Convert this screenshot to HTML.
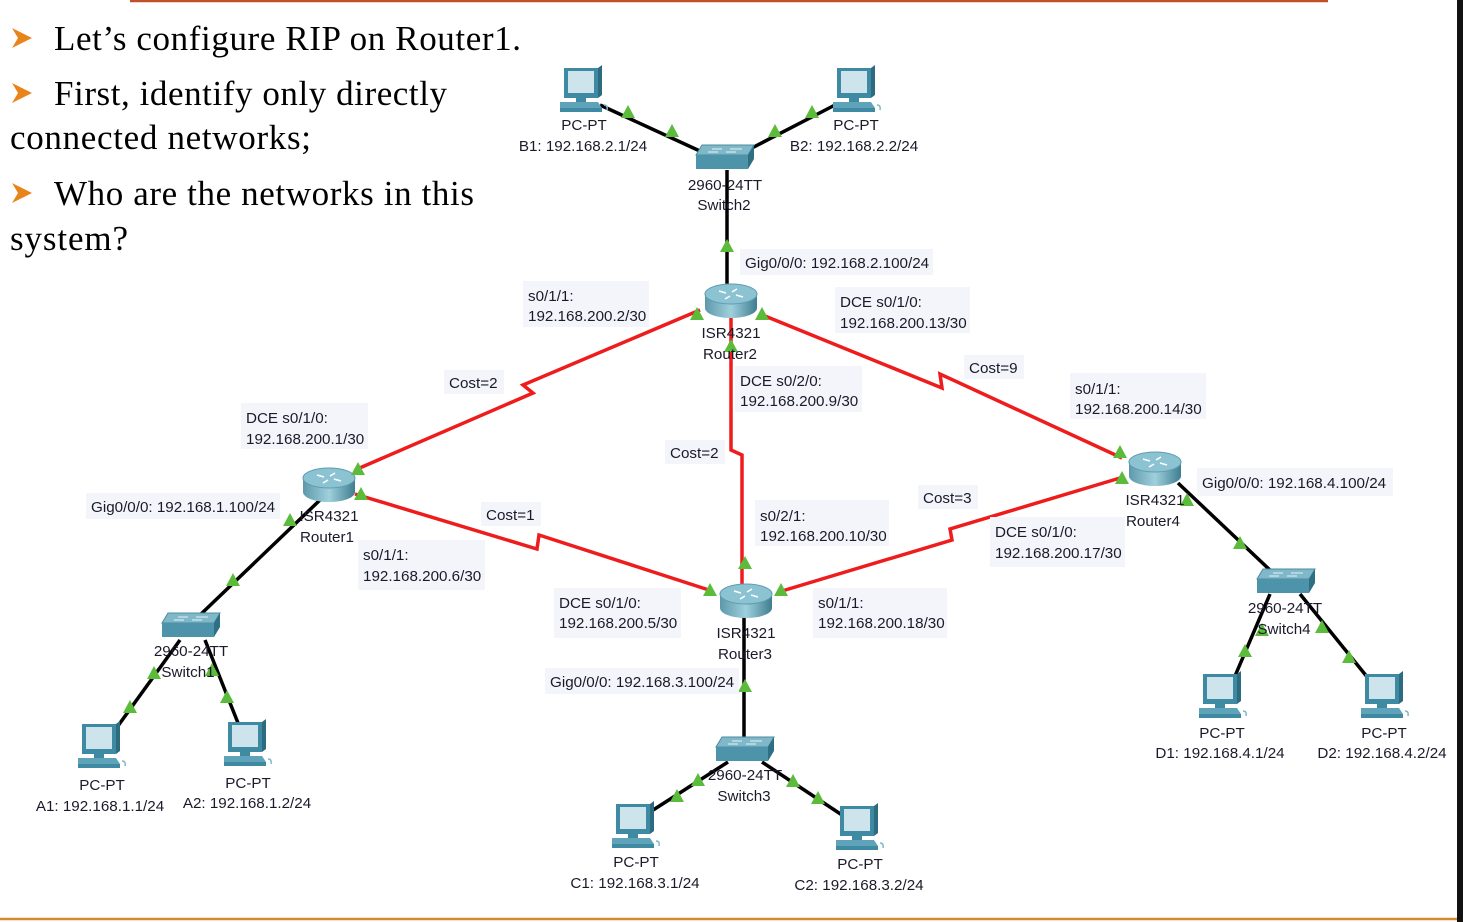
<!DOCTYPE html>
<html><head><meta charset="utf-8"><style>
html,body{margin:0;padding:0;background:#fff;}
svg{display:block;}
.l{font-family:"Liberation Sans",Arial,sans-serif;font-size:15.2px;fill:#1a1a2a;}
.b{fill:#f3f5fa;}
.s{font-family:"Liberation Serif","Times New Roman",serif;font-size:35px;fill:#000;}
</style></head><body>
<svg width="1463" height="922" viewBox="0 0 1463 922" xmlns="http://www.w3.org/2000/svg">
<defs>
<linearGradient id="rg" x1="0" x2="1" y1="0" y2="0"><stop offset="0" stop-color="#5d99ab"/><stop offset="0.5" stop-color="#9fd0dc"/><stop offset="1" stop-color="#3f7d90"/></linearGradient>
<g id="rt">
<path d="M-26,-6 L-26,8 A26,10 0 0 0 26,8 L26,-6 Z" fill="url(#rg)"/>
<ellipse cx="0" cy="-6" rx="26" ry="10" fill="#8cc3d2" stroke="#5f9cb0" stroke-width="1"/>
<path d="M-12,-9 l7,2 M12,-3 l-7,-2 M-6,-1 l5,-3 M6,-11 l-5,3" stroke="#fff" stroke-width="1.6"/>
</g>
<g id="sw">
<path d="M-22,-12 L30,-12 L24,-2 L-28,-2 Z" fill="#7fb8c9" stroke="#4e8ba0"/>
<path d="M-28,-2 L24,-2 L24,12 L-28,12 Z" fill="#4d93aa"/>
<path d="M24,-2 L30,-12 L30,2 L24,12 Z" fill="#2f6f84"/>
<path d="M-12,-8 h10 M6,-8 h12 M-16,-5 h10 M2,-5 h10" stroke="#e6f2f6" stroke-width="1"/>
</g>
<g id="pc">
<rect x="-18" y="-24" width="34" height="30" fill="#3f8aa3"/>
<rect x="-14" y="-21" width="26" height="22" fill="#cde4ec"/>
<path d="M16,-24 l4,-3 v30 l-4,3z" fill="#2c6b80"/>
<rect x="-6" y="6" width="10" height="4" fill="#3f8aa3"/>
<path d="M-22,10 h38 l4,6 h-42z" fill="#5fa3b8"/>
<rect x="-22" y="16" width="42" height="4" fill="#3f8aa3"/>
<path d="M22,13 q4,0 3,5" stroke="#7fb8c9" fill="none" stroke-width="1.5"/>
</g>
<path id="t" d="M0,-7 L7,6 L-7,6 Z" fill="#5dbb3c"/>
<path id="ar" d="M0,-10 L20,0 L0,10 L6,0 Z" fill="#e8841a"/>
</defs>

<line x1="130" y1="1" x2="1328" y2="1" stroke="#c0502a" stroke-width="2.5"/>
<line x1="0" y1="919" x2="1463" y2="919" stroke="#d98a30" stroke-width="2.5"/>
<rect x="1457" y="0" width="6" height="922" fill="#111"/>

<use href="#ar" x="12" y="38"/>
<text class="s" x="54" y="50" textLength="467">Let’s configure RIP on Router1.</text>
<use href="#ar" x="12" y="93"/>
<text class="s" x="54" y="105" textLength="393">First, identify only directly</text>
<text class="s" x="10" y="149" textLength="301">connected networks;</text>
<use href="#ar" x="12" y="193"/>
<text class="s" x="54" y="205" textLength="420">Who are the networks in this</text>
<text class="s" x="10" y="250" textLength="118">system?</text>

<g stroke="#000" stroke-width="3.5" fill="none">
<line x1="600" y1="105" x2="702" y2="152"/>
<line x1="835" y1="105" x2="748" y2="150"/>
<line x1="727" y1="170" x2="727" y2="288"/>
<line x1="320" y1="500" x2="200" y2="615"/>
<line x1="180" y1="640" x2="115" y2="730"/>
<line x1="205" y1="640" x2="240" y2="728"/>
<line x1="744" y1="616" x2="744" y2="740"/>
<line x1="728" y1="762" x2="650" y2="812"/>
<line x1="762" y1="762" x2="842" y2="815"/>
<line x1="1178" y1="483" x2="1272" y2="572"/>
<line x1="1270" y1="594" x2="1235" y2="676"/>
<line x1="1300" y1="594" x2="1368" y2="678"/>
</g>
<g stroke="#ee1c1c" stroke-width="3.5" fill="none" stroke-linejoin="miter">
<polyline points="355,470 533,393 523,385 700,310"/>
<polyline points="765,316 942,388 940,374 1122,458"/>
<polyline points="731,318 731,450 742,455 742,585"/>
<polyline points="355,494 537,549 539,535 712,591"/>
<polyline points="782,591 952,540 950,529 1120,478"/>
</g>

<use href="#rt" x="731" y="300"/>
<use href="#rt" x="329" y="484"/>
<use href="#rt" x="746" y="600"/>
<use href="#rt" x="1155" y="468"/>
<use href="#sw" x="724" y="157"/>
<use href="#sw" x="190" y="625"/>
<use href="#sw" x="744" y="749"/>
<use href="#sw" x="1285" y="581"/>
<use href="#pc" x="582" y="92"/>
<use href="#pc" x="855" y="92"/>
<use href="#pc" x="100" y="748"/>
<use href="#pc" x="246" y="746"/>
<use href="#pc" x="634" y="828"/>
<use href="#pc" x="858" y="830"/>
<use href="#pc" x="1221" y="698"/>
<use href="#pc" x="1383" y="698"/>

<g>
<use href="#t" x="628" y="112"/><use href="#t" x="672" y="131"/><use href="#t" x="775" y="131"/><use href="#t" x="812" y="112"/>
<use href="#t" x="727" y="246"/><use href="#t" x="697" y="314"/><use href="#t" x="762" y="314"/><use href="#t" x="731" y="346"/>
<use href="#t" x="1120" y="452"/><use href="#t" x="1122" y="478"/><use href="#t" x="358" y="469"/><use href="#t" x="361" y="494"/>
<use href="#t" x="290" y="520"/><use href="#t" x="233" y="580"/><use href="#t" x="154" y="673"/><use href="#t" x="130" y="707"/>
<use href="#t" x="212" y="670"/><use href="#t" x="227" y="697"/><use href="#t" x="710" y="590"/><use href="#t" x="781" y="590"/>
<use href="#t" x="745" y="563"/><use href="#t" x="745" y="686"/><use href="#t" x="698" y="780"/><use href="#t" x="677" y="796"/>
<use href="#t" x="793" y="781"/><use href="#t" x="818" y="798"/><use href="#t" x="1187" y="500"/><use href="#t" x="1240" y="543"/>
<use href="#t" x="1262" y="630"/><use href="#t" x="1245" y="651"/><use href="#t" x="1322" y="627"/><use href="#t" x="1349" y="657"/>
</g>

<g class="b">
<rect x="740" y="249" width="193" height="26"/>
<rect x="523" y="281" width="126" height="46"/>
<rect x="835" y="287" width="135" height="46"/>
<rect x="444" y="370" width="60" height="24"/>
<rect x="735" y="366" width="127" height="46"/>
<rect x="964" y="355" width="60" height="24"/>
<rect x="1070" y="373" width="136" height="46"/>
<rect x="241" y="403" width="127" height="46"/>
<rect x="665" y="440" width="60" height="24"/>
<rect x="1197" y="468" width="196" height="28"/>
<rect x="918" y="485" width="60" height="24"/>
<rect x="86" y="493" width="194" height="26"/>
<rect x="481" y="502" width="60" height="24"/>
<rect x="755" y="500" width="134" height="46"/>
<rect x="990" y="517" width="135" height="50"/>
<rect x="358" y="540" width="127" height="50"/>
<rect x="554" y="588" width="127" height="50"/>
<rect x="813" y="588" width="134" height="50"/>
<rect x="545" y="668" width="194" height="26"/>
</g>

<g class="l">
<text x="745" y="268">Gig0/0/0: 192.168.2.100/24</text>
<text x="528" y="301">s0/1/1:</text><text x="528" y="321">192.168.200.2/30</text>
<text x="840" y="307">DCE s0/1/0:</text><text x="840" y="328">192.168.200.13/30</text>
<text x="449" y="388">Cost=2</text>
<text x="740" y="386">DCE s0/2/0:</text><text x="740" y="406">192.168.200.9/30</text>
<text x="969" y="373">Cost=9</text>
<text x="1075" y="394">s0/1/1:</text><text x="1075" y="414">192.168.200.14/30</text>
<text x="246" y="423">DCE s0/1/0:</text><text x="246" y="444">192.168.200.1/30</text>
<text x="670" y="458">Cost=2</text>
<text x="1202" y="488">Gig0/0/0: 192.168.4.100/24</text>
<text x="923" y="503">Cost=3</text>
<text x="91" y="512">Gig0/0/0: 192.168.1.100/24</text>
<text x="486" y="520">Cost=1</text>
<text x="760" y="521">s0/2/1:</text><text x="760" y="541">192.168.200.10/30</text>
<text x="995" y="537">DCE s0/1/0:</text><text x="995" y="558">192.168.200.17/30</text>
<text x="363" y="560">s0/1/1:</text><text x="363" y="581">192.168.200.6/30</text>
<text x="559" y="608">DCE s0/1/0:</text><text x="559" y="628">192.168.200.5/30</text>
<text x="818" y="608">s0/1/1:</text><text x="818" y="628">192.168.200.18/30</text>
<text x="550" y="687">Gig0/0/0: 192.168.3.100/24</text>
</g>
<g class="l" text-anchor="middle">
<text x="584" y="130">PC-PT</text><text x="583" y="151">B1: 192.168.2.1/24</text>
<text x="856" y="130">PC-PT</text><text x="854" y="151">B2: 192.168.2.2/24</text>
<text x="725" y="190">2960-24TT</text><text x="724" y="210">Switch2</text>
<text x="731" y="338">ISR4321</text><text x="730" y="359">Router2</text>
<text x="329" y="521">ISR4321</text><text x="327" y="542">Router1</text>
<text x="746" y="638">ISR4321</text><text x="745" y="659">Router3</text>
<text x="1155" y="505">ISR4321</text><text x="1153" y="526">Router4</text>
<text x="191" y="656">2960-24TT</text><text x="188" y="677">Switch1</text>
<text x="745" y="780">2960-24TT</text><text x="744" y="801">Switch3</text>
<text x="1285" y="613">2960-24TT</text><text x="1284" y="634">Switch4</text>
<text x="102" y="790">PC-PT</text><text x="100" y="811">A1: 192.168.1.1/24</text>
<text x="248" y="788">PC-PT</text><text x="247" y="808">A2: 192.168.1.2/24</text>
<text x="636" y="867">PC-PT</text><text x="635" y="888">C1: 192.168.3.1/24</text>
<text x="860" y="869">PC-PT</text><text x="859" y="890">C2: 192.168.3.2/24</text>
<text x="1222" y="738">PC-PT</text><text x="1220" y="758">D1: 192.168.4.1/24</text>
<text x="1384" y="738">PC-PT</text><text x="1382" y="758">D2: 192.168.4.2/24</text>
</g>
</svg>
</body></html>
